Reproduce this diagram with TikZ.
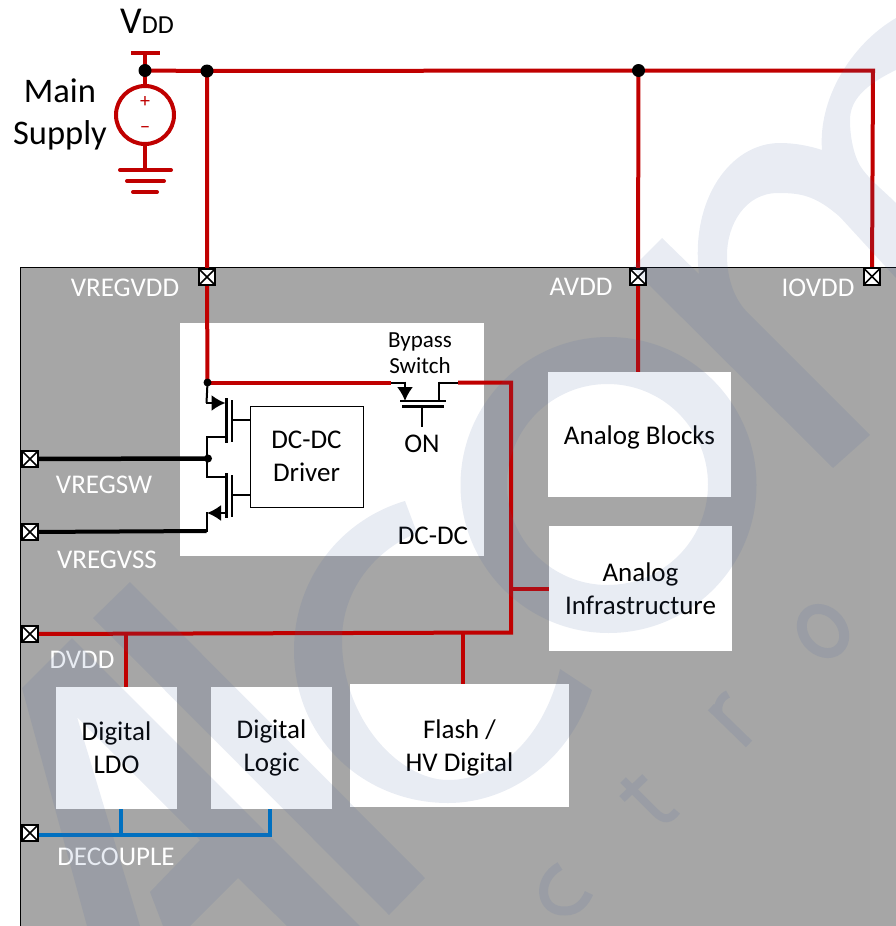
\documentclass[tikz,border=0pt]{standalone}
\usepackage{fontspec}
\usepackage{xcolor}
\usepackage{tikz}
\usetikzlibrary{arrows.meta,calc,positioning}
\setmainfont{Carlito}
\definecolor{wirered}{HTML}{C00000}
\definecolor{wireblue}{HTML}{0070C0}
\definecolor{chipgray}{HTML}{A6A6A6}
\definecolor{markblue}{RGB}{70,100,160}
\pgfdeclarelayer{wires}
\pgfsetlayers{wires,main}

\begin{document}
\begin{tikzpicture}[x=1pt,y=-1pt,
  redwire/.style={wirered,line width=4pt},
  bluewire/.style={wireblue,line width=4pt},
  blackwire/.style={black,line width=2pt},
  buswire/.style={black,line width=4.5pt},
  txt/.style={font=\fontsize{27}{33}\selectfont,align=center,inner sep=0pt},
  pinlabel/.style={txt,white},
  blockbox/.style={fill=white,inner sep=0pt,font=\fontsize{27}{33}\selectfont,align=center},
  padbox/.style={draw=black,fill=white,line width=2pt,minimum size=16.5pt,inner sep=0pt,
    path picture={\draw[line width=1.6pt] (path picture bounding box.north west)--(path picture bounding box.south east)
      (path picture bounding box.north east)--(path picture bounding box.south west);}},
  bigdot/.style={circle,fill=black,minimum size=13pt,inner sep=0pt},
  smalldot/.style={circle,fill=black,minimum size=8pt,inner sep=0pt},
  swtip/.style={-{Latex[length=14pt,width=16pt]}}]
\useasboundingbox (0,0) rectangle (895,926);
\begin{pgfonlayer}{wires}
\fill[chipgray,draw=black,line width=1pt] (20.5,267) rectangle (905,940);
\node[fill=white,minimum width=304pt,minimum height=233pt,inner sep=0pt] (dcpanel) at (332,439.5) {};
\end{pgfonlayer}

\node[padbox] (vregvdd) at (207,277) {};
\node[padbox] (avdd) at (638,277) {};
\node[padbox] (iovdd) at (872,276.5) {};
\node[padbox] (vregsw) at (30,459) {};
\node[padbox] (vregvss) at (30,532) {};
\node[padbox] (dvdd) at (30,634) {};
\node[padbox] (decouple) at (30,833) {};

\node[blockbox,minimum width=183pt,minimum height=125pt] (analogblocks) at (639.5,434.5) {\rule{0pt}{24pt}Analog Blocks};
\node[blockbox,minimum width=183pt,minimum height=125pt] (analoginfra) at (640.5,588.5) {Analog\\Infrastructure};
\node[blockbox,minimum width=121pt,minimum height=122pt] (digitalldo) at (116.5,748) {Digital\\LDO};
\node[blockbox,minimum width=121pt,minimum height=122pt] (digitallogic) at (271.5,748) {Digital\\Logic};
\node[blockbox,minimum width=219pt,minimum height=123pt] (flash) at (459.5,745.5) {\rule{0pt}{24pt}Flash /\\HV Digital};
\node[blockbox,draw=black,line width=1pt,minimum width=113pt,minimum height=101pt] (driver) at (306.5,456.5) {DC-DC\\Driver};

\node[bigdot] (supplydot) at (145,70.5) {};
\node[bigdot] (vregjoin) at (207,71) {};
\node[bigdot] (avddjoin) at (638.5,70.5) {};
\node[smalldot] (hsdot) at (207.5,382.5) {};
\node[smalldot] (swdot) at (208,458.5) {};

\node[circle,draw=wirered,line width=4pt,fill=white,minimum size=58pt,inner sep=0pt] (mainsupply) at (145,115) {};
\node[txt,wirered,font=\fontsize{20}{20}\selectfont] (plussign) at (145,102) {+};
\node[txt,wirered,font=\fontsize{20}{20}\selectfont] (minussign) at (145,130) {−};

\coordinate (vddtop) at (145,53);
\coordinate (gndtop) at (145,170);
\coordinate (iocorner) at (873,70.5);
\coordinate (swleft) at (391,382.5);
\coordinate (swright) at (458,382.5);
\coordinate (busturn) at (511,382.5);
\coordinate (busfoot) at (511,632.5);
\coordinate (decoupletap) at (39,834.5);
\coordinate (logictap) at (270,834.5);
\begin{pgfonlayer}{wires}
\draw[redwire] (vddtop) -- (mainsupply);
\draw[redwire] (131,53) -- (160,53);
\draw[redwire] (mainsupply) -- (gndtop);
\draw[redwire,line cap=round] (120,170) -- (171,170);
\draw[redwire,line cap=round] (127,181) -- (164,181);
\draw[redwire,line cap=round] (133,192) -- (157,192);
\draw[redwire] (supplydot.center) -- (vregjoin.center) -- (avddjoin.center) -- (iocorner) -- (iovdd.center);
\draw[redwire] (vregjoin.center) -- (vregvdd.center) -- (hsdot.center);
\draw[redwire] (avddjoin.center) -- (avdd.center) -- (avdd |- analogblocks.north);
\draw[redwire] (hsdot.center) -- (swleft);
\draw[redwire] (swright) -- (busturn) -- (busfoot) -- (dvdd.center);
\draw[redwire] (busturn |- analoginfra.west) -- (analoginfra.west);
\draw[redwire] (126,632.5) -- (126,687);
\draw[redwire,line width=3.5pt] (463,632.5) -- (463,684);
\draw[bluewire] (decoupletap) -- (logictap) -- (logictap |- digitallogic.south);
\draw[bluewire] (121,834.5) -- (121,809);
\draw[buswire] (vregsw.center) -- (swdot.center);
\draw[buswire,line width=4pt] (vregvss.center) -- (206.5,531);
\end{pgfonlayer}

\draw[blackwire] (swleft) -- (405,382.5);
\draw[blackwire,swtip] (405,381.5) -- (405,401);
\draw[blackwire] (439,382.5) -- (swright);
\draw[blackwire] (439,381.5) -- (439,401);
\draw[line width=2.5pt] (400,401) -- (446,401);
\draw[line width=2.5pt] (402,406.5) -- (444,406.5);
\draw[blackwire] (422,406.5) -- (422,427);
\draw[blackwire] (hsdot.center) -- (206.5,403);
\draw[blackwire,swtip] (205.5,403) -- (225.5,403);
\draw[line width=2.5pt] (226.5,398) -- (226.5,443);
\draw[line width=2pt] (231.5,400) -- (231.5,442);
\draw[blackwire] (226,437) -- (206.5,437) -- (206.5,477) -- (226,477);
\draw[line width=2.5pt] (226.5,473) -- (226.5,518);
\draw[line width=2pt] (231.5,475) -- (231.5,517);
\draw[blackwire] (231.5,420) -- (driver.west |- 0,420);
\draw[blackwire] (231.5,495) -- (driver.west |- 0,495);
\draw[blackwire,swtip] (226,513) -- (207,513);
\draw[blackwire] (206.5,512) -- (206.5,532);

\node[txt,font=\fontsize{38}{38}\selectfont] (vddlabel) at (147,21) {V\fontsize{26}{26}\selectfont DD};
\node[txt,font=\fontsize{34.5}{42}\selectfont] (supplylabel) at (60,114) {Main\\Supply};
\node[txt,font=\fontsize{23}{26}\selectfont] (bypasslabel) at (420,353) {Bypass\\Switch};
\node[txt] (onlabel) at (422,444) {ON};
\node[txt] (dcdclabel) at (433,536) {DC-DC};
\node[pinlabel] (vregvddlabel) at (125,288) {VREGVDD};
\node[pinlabel] (avddlabel) at (581,287) {AVDD};
\node[pinlabel] (iovddlabel) at (818,288) {IOVDD};
\node[pinlabel] (vregswlabel) at (104,485) {VREGSW};
\node[pinlabel] (vregvsslabel) at (107,560) {VREGVSS};
\node[pinlabel] (dvddlabel) at (82,660) {DVDD};
\node[pinlabel] (decouplelabel) at (116,857) {DECOUPLE};

\begin{scope}[transparency group,opacity=0.12]
\fill[markblue] (22,688) -- (72,638) -- (360,926) -- (287,926) -- (238,878) -- (190,926) -- (163,926) -- (150,892) -- (200,840) -- (77,717) -- (140,926) -- (87,926) -- cycle;
\fill[markblue] (93,618) -- (130,582) -- (425,878) -- (389,915) -- cycle;
\fill[markblue] (405,501) .. controls (340,520) and (294,580) .. (294,650) .. controls (294,740) and (365,803) .. (448,803) .. controls (510,803) and (570,760) .. (592,690) -- (560,669) .. controls (545,735) and (500,780) .. (448,780) .. controls (400,780) and (342,720) .. (342,640) .. controls (342,590) and (375,550) .. (417,533) -- cycle;
\fill[markblue,even odd rule] (608.5,485) circle[radius=148] (607.5,484.5) circle[radius=100.5];
\fill[markblue] (632,268) -- (662,238) -- (699,274) .. controls (690,200) and (730,143) .. (780,143) .. controls (795,143) and (810,146) .. (822,150) .. controls (818,100) and (850,45) .. (896,18) -- (896,70) .. controls (865,85) and (850,100) .. (850,120) .. controls (850,140) and (855,160) .. (863,170) .. controls (872,182) and (885,192) .. (896,203) -- (896,278) -- (840,217) .. controls (815,195) and (800,193) .. (778,193) .. controls (745,193) and (727,225) .. (727,255) .. controls (727,280) and (735,300) .. (748,313) -- (870,435) -- (833,468) -- cycle;
\draw[markblue,line width=10pt,rotate around={-50:(823,631)}] (823,631) ellipse[x radius=24,y radius=19];
\draw[markblue,line width=9pt] (711,707) -- (749,744);
\draw[markblue,line width=8pt] (720,717) .. controls (716,708) and (719,698) .. (728,694);
\draw[markblue,line width=8pt] (623,780) -- (655,812) .. controls (664,821) and (670,820) .. (677,811);
\draw[markblue,line width=8pt] (645,777) -- (622,799);
\draw[markblue,line width=9pt] (560,866) .. controls (535,880) and (540,912) .. (565,911) .. controls (578,911) and (585,902) .. (589,893);
\end{scope}
\end{tikzpicture}
\end{document}
